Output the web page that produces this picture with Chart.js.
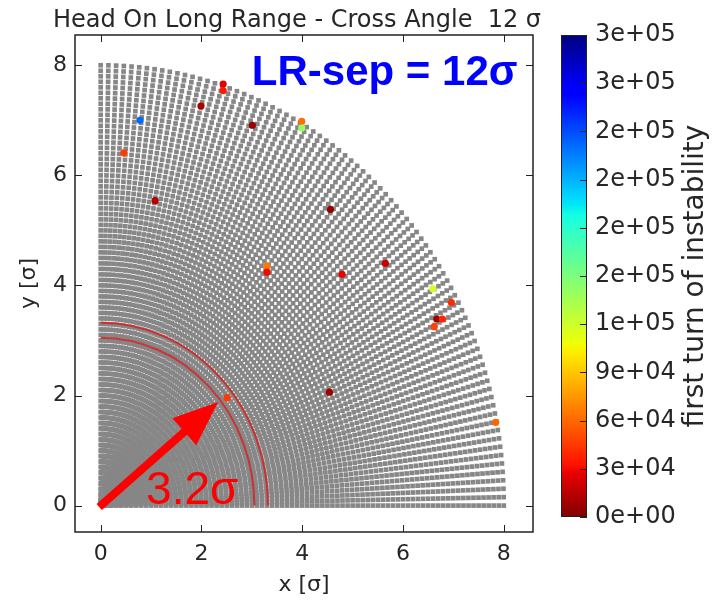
<!DOCTYPE html>
<html>
<head>
<meta charset="utf-8">
<title>Head On Long Range - Cross Angle 12 σ</title>
<script src="https://cdn.jsdelivr.net/npm/chart.js@4.4.1/dist/chart.umd.min.js"></script>
<style>
  html, body { margin: 0; padding: 0; background: #fff; }
  #wrap { position: relative; width: 712px; height: 600px; }
  #main { position: absolute; left: 0; top: 0; }
  #cbar { position: absolute; left: 540px; top: 0; }
</style>
</head>
<body>
<div id="wrap">
  <canvas id="main" width="712" height="600"></canvas>
  <canvas id="cbar" width="172" height="600"></canvas>
</div>
<script>
// tick labels
const xTicks = [0, 2, 4, 6, 8];
const yTicks = [0, 2, 4, 6, 8];
const turnTicks = [0, 30000, 60000, 90000, 120000, 150000, 180000, 210000, 240000, 270000, 300000];
const turnMax = 300000;

// scanned initial amplitudes: polar grid in sigma
const gridRadiusMax = 8.0;
const gridRadiusStep = 0.1;
const gridAngleSteps = 82;

// unstable particles: x, y [sigma] and first turn of instability
const unstableX = [2.43, 2.43, 1.99, 0.78, 3.01, 3.99, 3.99, 0.46, 1.08, 4.56, 5.65,
  4.79, 3.30, 3.30, 6.59, 6.96, 6.67, 6.78, 6.62, 4.54, 2.51, 7.84];
const unstableY = [7.66, 7.54, 7.26, 7.00, 6.91, 6.98, 6.86, 6.41, 5.54, 5.38, 4.40,
  4.20, 4.35, 4.24, 3.94, 3.69, 3.39, 3.39, 3.25, 2.06, 1.96, 1.51];
const unstableTurn = [25000, 35000, 11000, 232000, 6000, 62000, 140000, 46000, 13000, 6000, 19000,
  28000, 65000, 30000, 118000, 40000, 8000, 38000, 49000, 8000, 45000, 59000];

// hand drawn overlay (sigma)
const arcRadii = [3.05, 3.32];
const arrowTip = [2.33, 1.88];

const TITLE = 'Head On Long Range - Cross Angle  12 σ';
const FONT = 'DejaVu Sans';
const TXT = '#262626';

// jet colormap, reversed so 0 is dark red and max is dark blue
const JET = {
  r: [[0, 0], [0.35, 0], [0.66, 1], [0.89, 1], [1, 0.5]],
  g: [[0, 0], [0.125, 0], [0.375, 1], [0.64, 1], [0.91, 0], [1, 0]],
  b: [[0, 0.5], [0.11, 1], [0.34, 1], [0.65, 0], [1, 0]],
};
function seg(pts, t) {
  for (let i = 1; i < pts.length; i++) {
    if (t <= pts[i][0]) {
      const [x0, y0] = pts[i - 1];
      const [x1, y1] = pts[i];
      return y0 + (y1 - y0) * (t - x0) / (x1 - x0);
    }
  }
  return pts[pts.length - 1][1];
}
function jet(t) {
  const c = (k) => Math.round(255 * seg(JET[k], t));
  return `rgb(${c('r')}, ${c('g')}, ${c('b')})`;
}
function turnColor(v) {
  return jet(1 - Math.min(Math.max(v / turnMax, 0), 1));
}

const gridPoints = [];
for (let i = 0; i <= gridAngleSteps; i++) {
  const th = (Math.PI / 2) * (i / gridAngleSteps);
  for (let k = 1; k * gridRadiusStep <= gridRadiusMax + 1e-9; k++) {
    const r = k * gridRadiusStep;
    gridPoints.push({ x: r * Math.cos(th), y: r * Math.sin(th) });
  }
}
const unstablePoints = unstableX.map((x, i) => ({ x, y: unstableY[i] }));

const overlay = {
  id: 'overlay',
  afterDatasetsDraw(chart) {
    const { ctx, scales: { x, y } } = chart;
    const ox = x.getPixelForValue(0);
    const oy = y.getPixelForValue(0);
    ctx.save();

    ctx.strokeStyle = 'rgba(212, 38, 38, 0.9)';
    ctx.lineWidth = 2;
    arcRadii.forEach((r) => {
      const rx = x.getPixelForValue(r) - ox;
      const ry = oy - y.getPixelForValue(r);
      ctx.beginPath();
      ctx.ellipse(ox, oy, rx, ry, 0, -Math.PI / 2, 0);
      ctx.stroke();
    });

    const tx = x.getPixelForValue(arrowTip[0]);
    const ty = y.getPixelForValue(arrowTip[1]);
    const len = Math.hypot(tx - ox, ty - oy);
    const ux = (tx - ox) / len;
    const uy = (ty - oy) / len;
    const headLen = 45;
    const headHalf = 18;
    const bx = tx - ux * headLen;
    const by = ty - uy * headLen;
    ctx.strokeStyle = '#ff0000';
    ctx.fillStyle = '#ff0000';
    ctx.lineWidth = 8;
    ctx.beginPath();
    ctx.moveTo(ox - ux * 2, oy - uy * 2);
    ctx.lineTo(bx + ux * 2, by + uy * 2);
    ctx.stroke();
    ctx.beginPath();
    ctx.moveTo(tx, ty);
    ctx.lineTo(bx - uy * headHalf, by + ux * headHalf);
    ctx.lineTo(bx + uy * headHalf, by - ux * headHalf);
    ctx.closePath();
    ctx.fill();

    ctx.textAlign = 'left';
    ctx.textBaseline = 'alphabetic';
    ctx.font = '46px "Liberation Sans"';
    ctx.fillText('3.2σ', x.getPixelForValue(0.9), y.getPixelForValue(0.03));
    ctx.fillStyle = '#0000ff';
    ctx.font = 'bold 42px "Liberation Sans"';
    ctx.fillText('LR-sep = 12σ', x.getPixelForValue(3.0), y.getPixelForValue(7.65));
    ctx.restore();
  },
  afterDraw(chart) {
    const { ctx, chartArea: a, scales: { x, y } } = chart;
    ctx.save();
    ctx.strokeStyle = '#222';
    ctx.lineWidth = 1.5;
    ctx.strokeRect(a.left, a.top, a.right - a.left, a.bottom - a.top);
    ctx.lineWidth = 1;
    xTicks.forEach((v) => {
      const px = Math.round(x.getPixelForValue(v)) + 0.5;
      ctx.beginPath();
      ctx.moveTo(px, a.bottom); ctx.lineTo(px, a.bottom - 7);
      ctx.moveTo(px, a.top); ctx.lineTo(px, a.top + 7);
      ctx.stroke();
    });
    yTicks.forEach((v) => {
      const py = Math.round(y.getPixelForValue(v)) + 0.5;
      ctx.beginPath();
      ctx.moveTo(a.left, py); ctx.lineTo(a.left + 7, py);
      ctx.moveTo(a.right, py); ctx.lineTo(a.right - 7, py);
      ctx.stroke();
    });

    // figure title, slightly wider than the axes box
    ctx.fillStyle = TXT;
    ctx.font = `24px "${FONT}"`;
    ctx.textAlign = 'center';
    ctx.textBaseline = 'alphabetic';
    ctx.fillText(TITLE, (a.left + a.right) / 2 - 7, 27);
    ctx.restore();
  },
};

const tickFont = { family: FONT, size: 22 };

new Chart(document.getElementById('main'), {
  type: 'scatter',
  data: {
    datasets: [{
      label: 'unstable',
      data: unstablePoints,
      pointRadius: 3.6,
      pointBorderWidth: 0,
      pointBackgroundColor: unstableTurn.map(turnColor),
      order: 1,
    }, {
      label: 'grid',
      data: gridPoints,
      parsing: false,
      pointStyle: 'rect',
      pointRadius: 3.3,
      pointBorderWidth: 0,
      pointBackgroundColor: '#878787',
      order: 2,
    }],
  },
  options: {
    responsive: false,
    animation: false,
    events: [],
    layout: { padding: { left: 0, right: 179, top: 35, bottom: 0 } },
    plugins: {
      legend: { display: false },
      tooltip: { enabled: false },
      title: { display: false },
    },
    scales: {
      x: {
        type: 'linear',
        min: -0.51,
        max: 8.58,
        afterBuildTicks: (s) => { s.ticks = xTicks.map((v) => ({ value: v })); },
        afterFit: (s) => { s.height = 68; },
        grid: { drawOnChartArea: false, drawTicks: false },
        border: { display: false },
        ticks: { font: tickFont, color: TXT, padding: 9, maxRotation: 0 },
        title: { display: true, text: 'x [σ]', color: TXT, font: tickFont, padding: { top: 0, bottom: 2 } },
      },
      y: {
        type: 'linear',
        min: -0.48,
        max: 8.55,
        afterBuildTicks: (s) => { s.ticks = yTicks.map((v) => ({ value: v })); },
        afterFit: (s) => { s.width = 75; },
        grid: { drawOnChartArea: false, drawTicks: false },
        border: { display: false },
        ticks: { font: tickFont, color: TXT, padding: 8 },
        title: { display: true, text: 'y [σ]', color: TXT, font: tickFont, padding: { top: 16, bottom: 0 } },
      },
    },
  },
  plugins: [overlay],
});

// colorbar
const JET_STOPS = [0, 0.11, 0.125, 0.34, 0.35, 0.375, 0.64, 0.65, 0.66, 0.89, 0.91, 1];

function barGradient(context) {
  const { chart } = context;
  const a = chart.chartArea;
  if (!a) return null;
  const g = chart.ctx.createLinearGradient(0, a.bottom, 0, a.top);
  JET_STOPS.forEach((s) => g.addColorStop(1 - s, jet(s)));
  return g;
}

function sciLabel(v) {
  const [m, e] = Number(v).toExponential(0).split('e');
  return `${m}e${e[0]}${e.slice(1).padStart(2, '0')}`;
}

const cbarDecor = {
  id: 'cbarDecor',
  afterDraw(chart) {
    const { ctx, chartArea: a, scales: { y } } = chart;
    ctx.save();
    ctx.strokeStyle = '#222';
    ctx.lineWidth = 1;
    ctx.strokeRect(a.left + 0.5, a.top + 0.5, a.right - a.left - 1, a.bottom - a.top - 1);
    turnTicks.forEach((v) => {
      const py = Math.round(y.getPixelForValue(v)) + 0.5;
      ctx.beginPath();
      ctx.moveTo(a.right, py);
      ctx.lineTo(a.right - 7, py);
      ctx.stroke();
    });
    ctx.fillStyle = TXT;
    ctx.font = `28px "${FONT}"`;
    ctx.textAlign = 'center';
    ctx.textBaseline = 'middle';
    ctx.translate(156, (a.top + a.bottom) / 2);
    ctx.rotate(-Math.PI / 2);
    ctx.fillText('first turn of instability', 0, 0);
    ctx.restore();
  },
};

new Chart(document.getElementById('cbar'), {
  type: 'bar',
  data: {
    labels: [''],
    datasets: [{
      data: [[0, turnMax]],
      backgroundColor: barGradient,
      borderWidth: 0,
      barPercentage: 1,
      categoryPercentage: 1,
    }],
  },
  options: {
    responsive: false,
    animation: false,
    events: [],
    layout: { padding: { left: 21, right: 0, top: 35, bottom: 83 } },
    plugins: { legend: { display: false }, tooltip: { enabled: false } },
    scales: {
      x: { display: false },
      y: {
        position: 'right',
        min: 0,
        max: turnMax,
        afterBuildTicks: (s) => { s.ticks = turnTicks.map((v) => ({ value: v })); },
        afterFit: (s) => { s.width = 125; },
        grid: { display: false },
        border: { display: false },
        ticks: { font: { family: FONT, size: 24 }, color: TXT, padding: 0, autoSkip: false, callback: sciLabel },
      },
    },
  },
  plugins: [cbarDecor],
});
</script>
</body>
</html>
